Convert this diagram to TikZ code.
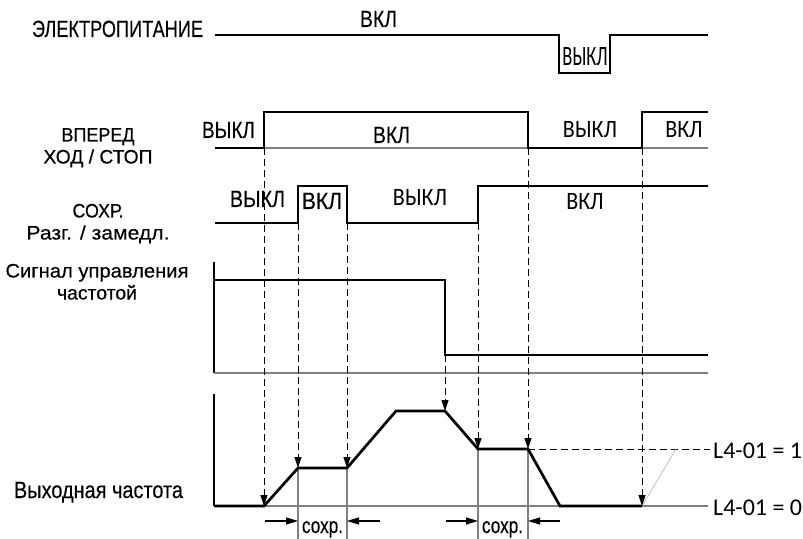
\documentclass[tikz,border=0pt]{standalone}
\usepackage{fontspec}
\usepackage{graphicx}
\setmainfont{Liberation Sans}
\newfontfamily\fh[FakeBold=0.25]{Liberation Sans}
\newfontfamily\fht[FakeBold=0.35]{Liberation Sans}
\newfontfamily\fc[FakeStretch=0.88]{Carlito}
\newfontfamily\fcs[FakeStretch=0.66]{Carlito}
\newfontfamily\fcn{Carlito}
\newcommand\tw[2]{\resizebox{#1bp}{\height}{#2}}
\newcommand\twol[2]{\vtop{\baselineskip=22bp\lineskiplimit=-100bp\halign{\hfil##\hfil\cr#1\cr#2\cr}}}
\usetikzlibrary{arrows.meta}
\tikzset{
  sig/.style={line width=2.7bp, line join=miter},
  baseln/.style={gray, line width=1.2bp},
  axis/.style={black, line width=1.1bp},
  dsh/.style={dash pattern=on 7bp off 4bp, line width=1bp},
  darr/.style={dsh, -{Triangle[length=11bp,width=7bp]}},
  harr/.style={line width=1.1bp, -{Triangle[length=12bp,width=7bp]}},
  vline/.style={gray, line width=1.1bp},
  lbl/.style={inner sep=0pt, anchor=base, font=\fh\fontsize{23.5bp}{21bp}\selectfont},
  lbltwo/.style={inner sep=0pt, anchor=base, font=\fht\fontsize{19.5bp}{22bp}\selectfont},
  lblc/.style={inner sep=0pt, anchor=base, font=\fc\fontsize{25bp}{28bp}\selectfont},
}
\begin{document}
\begin{tikzpicture}[x=1bp,y=-1bp]
\useasboundingbox (0,0) rectangle (803,539);

% event coordinates
\coordinate (fwdon) at (264,148);
\coordinate (h1on) at (298,223);
\coordinate (h1off) at (347,223);
\coordinate (refdn) at (445,355);
\coordinate (h2on) at (478,223);
\coordinate (fwdoff) at (528,148);
\coordinate (fwdon2) at (642,148);
\coordinate (o1) at (264,506);
\coordinate (o2) at (298,468);
\coordinate (o3) at (347,468);
\coordinate (o4) at (445,411);
\coordinate (o5) at (478,449);
\coordinate (o6) at (528,449);
\coordinate (o7) at (642,506);

% labels left
\node[lbl] (pwr) at (117.5,37) {\tw{171}{ЭЛЕКТРОПИТАНИЕ}};
\node[lbltwo] (fwd) at (98,141.5) {\twol{\tw{73}{ВПЕРЕД}}{\tw{109}{ХОД / СТОП}}};
\node[lbltwo] (hold) at (98,217.5) {\twol{\tw{51}{СОХР.}}{\tw{143}{Разг. / замедл.}}};
\node[lbltwo] (ref) at (97,277.5) {\twol{\tw{183}{Сигнал управления}}{\tw{80}{частотой}}};
\node[lbl] (out) at (98.5,498) {\tw{169}{Выходная частота}};

% power
\draw[sig] (215,35) -- (559,35) -- (559,73) -- (610,73) -- (610,35) -- (708,35);
\node[lbl] (pon) at (378.5,27) {\tw{37}{ВКЛ}};
\node[inner sep=0pt, anchor=base, font=\fcs\fontsize{28bp}{30bp}\selectfont] (poff) at (585,66) {ВЫКЛ};

% forward run/stop
\draw[baseln] (fwdon) -- (708,148);
\draw[sig] (215,148) -- (fwdon) -- (264,112) -- (528,112) -- (fwdoff) -- (fwdon2) -- (642,112) -- (708,112);
\node[lbl] (f1) at (228.5,138) {\tw{53}{ВЫКЛ}};
\node[lbl] (f2) at (391.5,143) {\tw{37}{ВКЛ}};
\node[lblc] (f3) at (590,138) {ВЫКЛ};
\node[lblc] (f4) at (684,138) {ВКЛ};

% hold
\draw[sig] (215,223) -- (h1on) -- (298,186) -- (347,186) -- (h1off) -- (h2on) -- (478,186) -- (708,186);
\node[lbl] (hl1) at (257.5,207) {\tw{55}{ВЫКЛ}};
\node[lbl] (hl2) at (322,209) {\tw{40}{ВКЛ}};
\node[lblc] (hl3) at (420,206) {ВЫКЛ};
\node[lblc] (hl4) at (585,210) {ВКЛ};

% frequency reference
\draw[axis] (214,262) -- (214,373);
\draw[baseln] (214,373) -- (708,373);
\draw[sig] (214,280) -- (445,280) -- (refdn) -- (708,355);

% output frequency
\draw[axis] (214,394) -- (214,506);
\draw[baseln] (214,506) -- (708,506);
\draw[dsh] (o6) -- (710,449);
\draw[gray!55, line width=0.7bp] (o7) -- (676,449);
\draw[vline] (o2) -- (298,539);
\draw[vline] (o3) -- (347,539);
\draw[vline] (o5) -- (478,539);
\draw[vline] (o6) -- (528,539);
\draw[sig] (214,506) -- (o1) -- (o2) -- (o3) -- (396,411) -- (o4) -- (o5) -- (o6) -- (560,506) -- (o7);

% dashed arrows
\draw[darr] (fwdon) -- (o1);
\draw[darr] (h1on) -- (o2);
\draw[darr] (h1off) -- (o3);
\draw[darr] (refdn) -- (o4);
\draw[darr] (h2on) -- (o5);
\draw[darr] (fwdoff) -- (o6);
\draw[darr] (fwdon2) -- (o7);

% L4-01 labels
\node[inner sep=0pt, anchor=base west, font=\fcn\fontsize{24bp}{26bp}\selectfont] (l1) at (713,458) {L4-01 = 1};
\node[inner sep=0pt, anchor=base west, font=\fcn\fontsize{24bp}{26bp}\selectfont] (l0) at (713,515) {L4-01 = 0};

% hold time dimension arrows
\coordinate (d1) at (265,521);
\coordinate (d2) at (298,521);
\coordinate (d3) at (380,521);
\coordinate (d4) at (347,521);
\coordinate (d5) at (446,521);
\coordinate (d6) at (478,521);
\coordinate (d7) at (560,521);
\coordinate (d8) at (528,521);
\draw[harr] (d1) -- (d2);
\draw[harr] (d3) -- (d4);
\draw[harr] (d5) -- (d6);
\draw[harr] (d7) -- (d8);
\node[lbl, font=\fh\fontsize{22bp}{24bp}\selectfont] (s1) at (322.5,533) {\tw{41}{сохр.}};
\node[lbl, font=\fh\fontsize{22bp}{24bp}\selectfont] (s2) at (502.5,533) {\tw{41}{сохр.}};
\end{tikzpicture}
\end{document}
